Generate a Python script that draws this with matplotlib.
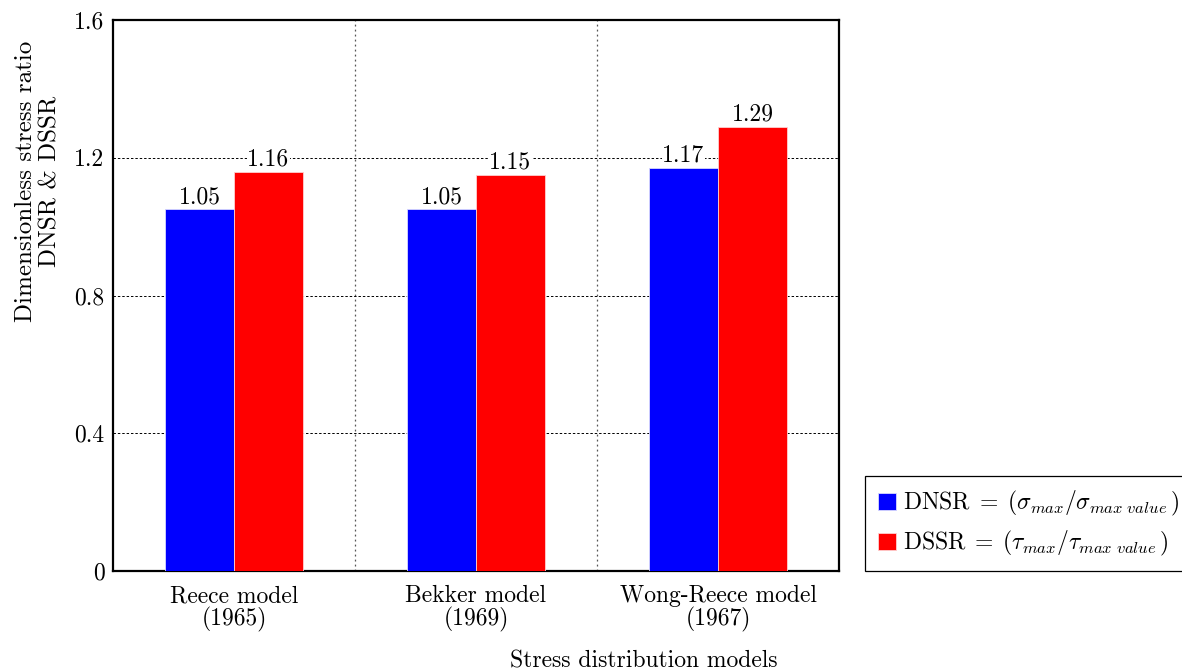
import matplotlib
matplotlib.use("Agg")
import matplotlib.pyplot as plt
import numpy as np

plt.rcParams['font.family'] = 'serif'
plt.rcParams['font.serif'] = ['cmr10']
plt.rcParams['mathtext.fontset'] = 'cm'
plt.rcParams['axes.formatter.use_mathtext'] = True

# data
models = ["Reece model\n(1965)", "Bekker model\n(1969)", "Wong-Reece model\n(1967)"]
dnsr = [1.05, 1.05, 1.17]
dssr = [1.16, 1.15, 1.29]
yticks = [0, 0.4, 0.8, 1.2, 1.6]
ytick_labels = ["0", "0.4", "0.8", "1.2", "1.6"]

fig = plt.figure(figsize=(11.82, 6.72), dpi=100)
ax = fig.add_axes([113/1182, 1-571/672, 726/1182, 551/672])

x = np.arange(len(models))
w = 0.285
b1 = ax.bar(x - w/2, dnsr, w, color="#0000ff", edgecolor="#d8d8ff", linewidth=0.6,
            label=r"DNSR$\;=\;(\sigma_{max}/\sigma_{max\ value}\,)$", zorder=3)
b2 = ax.bar(x + w/2, dssr, w, color="#ff0000", edgecolor="#ffd0d0", linewidth=0.6,
            label=r"DSSR$\;=\;(\tau_{max}/\tau_{max\ value}\,)$", zorder=3)

for bars, vals in [(b1, dnsr), (b2, dssr)]:
    for r, v in zip(bars, vals):
        ax.text(r.get_x() + r.get_width()/2, v + 0.004, "%.2f" % v, ha="center", va="bottom",
                fontsize=17, zorder=4,
                bbox=dict(facecolor="white", edgecolor="none", pad=0.3))

ax.set_xlim(-0.5, 2.5)
ax.set_ylim(0, 1.6)
ax.set_yticks(yticks)
ax.set_yticklabels(ytick_labels)
ax.set_xticks(x)
ax.set_xticklabels(models, linespacing=1.0)
ax.set_xticks([0.5, 1.5], minor=True)
ax.tick_params(axis="both", which="both", length=0, labelsize=17)
ax.tick_params(axis="x", pad=10)
ax.tick_params(axis="y", pad=6)

ax.grid(axis="y", which="major", color="black", linestyle=(0, (2.5, 2)), linewidth=0.7, zorder=0)
ax.grid(axis="x", which="minor", color="#555555", linestyle=(0, (1.5, 2.5)), linewidth=0.9, zorder=0)
for s in ax.spines.values():
    s.set_linewidth(1.6)

fig.text(38/1182, 1-181/672, "Dimensionless stress ratio\nDNSR & DSSR", rotation=90,
         ha="center", va="center", fontsize=18, linespacing=1.15)
fig.text(644/1182, 1-661/672, "Stress distribution models", ha="center", va="center", fontsize=17)

leg = fig.legend(loc="lower left", bbox_to_anchor=(865/1182, 1-571/672), fontsize=17,
                 handlelength=0.75, handleheight=0.75, handletextpad=0.3,
                 fancybox=False, edgecolor="black", framealpha=1, borderpad=0.55,
                 labelspacing=0.45, borderaxespad=0)
leg.get_frame().set_linewidth(0.9)

fig.savefig("out.png", dpi=100)
